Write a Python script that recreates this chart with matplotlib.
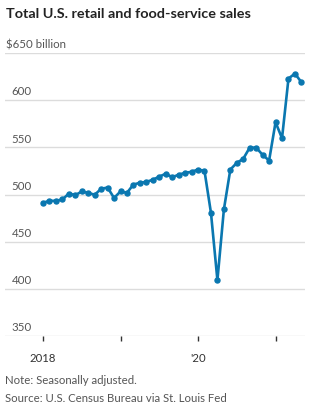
"""
Total U.S. retail and food-service sales (monthly, seasonally adjusted)
"""

import numpy as np
import matplotlib
matplotlib.use('Agg')
import matplotlib.pyplot as plt

plt.rcParams['font.family'] = ['Lato', 'DejaVu Sans']

# monthly sales, $ billion, Jan 2018 .. May 2021
months = [f'{y}-{m:02d}' for y in (2018, 2019, 2020, 2021) for m in range(1, 13)][:41]
sales = [491.2, 493.3, 493.3, 494.7, 501.0, 499.3, 503.2, 501.8, 499.7, 506.0, 507.4, 496.3,
         503.3, 501.8, 510.6, 512.4, 513.4, 515.6, 519.0, 522.0, 518.3, 521.0, 523.0, 524.0,
         526.5, 525.0, 480.6, 409.2, 484.1, 526.5, 533.5, 537.9, 549.7, 549.7, 542.0, 536.0,
         576.6, 559.6, 622.9, 628.2, 619.0]

y_ticks = [350, 400, 450, 500, 550, 600, 650]
x_tick_months = [0, 12, 24, 36]
x_tick_labels = ['2018', '', "'20", '']

W, H = 325, 415
fig = plt.figure(figsize=(W / 100, H / 100), dpi=100)

# axes placed in pixel coords
left, right, top, bottom = 5, 305, 53, 336
ax = fig.add_axes([left / W, (H - bottom) / H, (right - left) / W, (bottom - top) / H])

x = np.arange(len(sales))
px_per_month = 6.46
ax.set_xlim(-(43 - left) / px_per_month, (right - 43) / px_per_month)
ax.set_ylim(350, 650)

for v in y_ticks:
    ax.axhline(v, color='#dcdcdc', lw=1, zorder=1)

ax.plot(x, sales, color='#0a77b0', lw=1.9, marker='o', ms=3.6, zorder=3,
        solid_joinstyle='round')

for s in ax.spines.values():
    s.set_visible(False)
ax.set_yticks([])
ax.set_xticks(x_tick_months)
ax.set_xticklabels(x_tick_labels, fontsize=8.2, color='#333333')
ax.tick_params(axis='x', length=3.5, width=1, color='#333333', direction='out', pad=9)

# y labels above gridlines
num_x = (32 - left) / (right - left)
for v in y_ticks:
    if v == 650:
        ax.text(1 / (right - left), v + 3, '$650 billion', ha='left', va='bottom',
                fontsize=8.3, color='#555555', transform=ax.get_yaxis_transform())
    else:
        ax.text(num_x, v + 3, str(v), ha='right', va='bottom',
                fontsize=8.3, color='#555555', transform=ax.get_yaxis_transform())

fig.text(6 / W, 1 - 18 / H, 'Total U.S. retail and food-service sales', ha='left',
         va='baseline', fontsize=10.4, fontweight='bold', color='#222222')
fig.text(5 / W, 1 - 384 / H, 'Note: Seasonally adjusted.', ha='left', va='baseline',
         fontsize=8.2, color='#555555')
fig.text(5 / W, 1 - 402 / H, 'Source: U.S. Census Bureau via St. Louis Fed', ha='left',
         va='baseline', fontsize=8.2, color='#555555')

fig.savefig('out.png', dpi=100)
